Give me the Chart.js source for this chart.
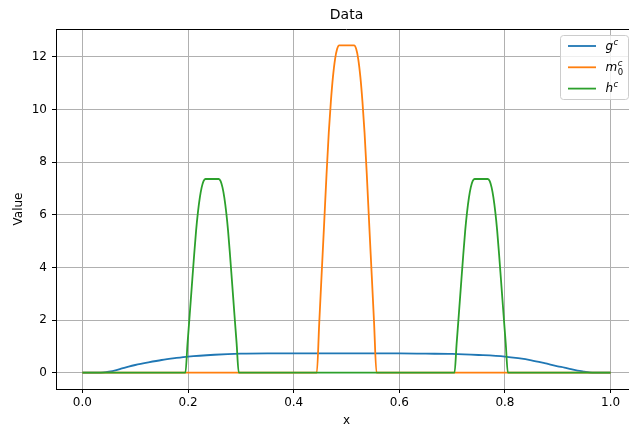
<!DOCTYPE html>
<html>
<head>
<meta charset="utf-8">
<title>Data</title>
<script src="https://cdn.jsdelivr.net/npm/chart.js@4.4.0/dist/chart.umd.min.js"></script>
<style>
  html, body { margin: 0; padding: 0; background: #fff; overflow: hidden; }
  #wrap { width: 640px; height: 428px; }
</style>
</head>
<body>
<div id="wrap"><canvas id="data-chart" width="640" height="428"></canvas></div>
<script>
// values
const gX = [0, 0.03, 0.04, 0.05, 0.0625, 0.075, 0.0875, 0.1, 0.125, 0.15, 0.175, 0.2, 0.25, 0.3, 0.35, 0.4, 0.5, 0.6, 0.65, 0.7, 0.75, 0.8, 0.825, 0.85, 0.875, 0.9, 0.9125, 0.925, 0.9375, 0.95, 0.96, 0.97, 1.0];
const gY = [0, 0, 0.01, 0.04, 0.09, 0.16, 0.23, 0.29, 0.39, 0.48, 0.55, 0.61, 0.68, 0.72, 0.73, 0.73, 0.73, 0.73, 0.72, 0.71, 0.67, 0.61, 0.55, 0.47, 0.36, 0.24, 0.19, 0.13, 0.08, 0.04, 0.01, 0, 0];

const mX = [0, 0.4438, 0.4483, 0.4528, 0.4574, 0.4622, 0.4664, 0.4704, 0.4743, 0.4783, 0.4822, 0.4862, 0.5003,
            0.5144, 0.5184, 0.5223, 0.5263, 0.5302, 0.5342, 0.5384, 0.5432, 0.5478, 0.5523, 0.5568, 1.0];
const mY = [0, 0, 1.85, 3.69, 5.55, 7.54, 9.11, 10.30, 11.23, 11.91, 12.30, 12.44, 12.44,
            12.44, 12.30, 11.91, 11.23, 10.30, 9.11, 7.54, 5.55, 3.69, 1.85, 0, 0];

const hX = [0, 0.195, 0.199, 0.2031, 0.2071, 0.2115, 0.2152, 0.2187, 0.2223, 0.2258, 0.2293, 0.2329, 0.2455,
            0.2581, 0.2617, 0.2652, 0.2687, 0.2723, 0.2758, 0.2795, 0.2839, 0.2879, 0.292, 0.296,
            0.7045, 0.7085, 0.7126, 0.7166, 0.721, 0.7247, 0.7282, 0.7318, 0.7353, 0.7388, 0.7424, 0.755,
            0.7676, 0.7712, 0.7747, 0.7782, 0.7818, 0.7853, 0.789, 0.7934, 0.7974, 0.8015, 0.8055, 1.0];
const hY = [0, 0, 1.10, 2.19, 3.28, 4.46, 5.39, 6.09, 6.65, 7.04, 7.28, 7.36, 7.36,
            7.36, 7.28, 7.04, 6.65, 6.09, 5.39, 4.46, 3.28, 2.19, 1.10, 0,
            0, 1.10, 2.19, 3.28, 4.46, 5.39, 6.09, 6.65, 7.04, 7.28, 7.36, 7.36,
            7.36, 7.28, 7.04, 6.65, 6.09, 5.39, 4.46, 3.28, 2.19, 1.10, 0, 0];

const xTicks = [0, 0.2, 0.4, 0.6, 0.8, 1.0];
const yTicks = [0, 2, 4, 6, 8, 10, 12];

const legendLabels = [
  { base: 'g', sup: 'c' },
  { base: 'm', sub: '0', sup: 'c' },
  { base: 'h', sup: 'c' }
];
const seriesColors = ['#1f77b4', '#ff7f0e', '#2ca02c'];

function toPoints(xs, ys) {
  return xs.map((x, i) => ({ x: x, y: ys[i] }));
}

Chart.defaults.font.family = '"DejaVu Sans", sans-serif';
Chart.defaults.font.size = 12;
Chart.defaults.color = '#000';

// top/right spines and the matplotlib-style legend box
const spinesAndLegend = {
  id: 'spinesAndLegend',
  afterDraw(chart) {
    const ctx = chart.ctx;
    const a = chart.chartArea;
    ctx.save();
    ctx.strokeStyle = '#000';
    ctx.lineWidth = 1;
    ctx.beginPath();
    ctx.moveTo(a.left, a.top + 0.5);
    ctx.lineTo(a.right, a.top + 0.5);
    ctx.moveTo(a.right - 0.5, a.top);
    ctx.lineTo(a.right - 0.5, a.bottom);
    ctx.stroke();

    const bw = 68, bh = 64, r = 3;
    const bx = a.right - 9 - bw + 0.5;
    const by = a.top + 6 + 0.5;
    ctx.beginPath();
    ctx.moveTo(bx + r, by);
    ctx.arcTo(bx + bw, by, bx + bw, by + bh, r);
    ctx.arcTo(bx + bw, by + bh, bx, by + bh, r);
    ctx.arcTo(bx, by + bh, bx, by, r);
    ctx.arcTo(bx, by, bx + bw, by, r);
    ctx.closePath();
    ctx.fillStyle = 'rgba(255,255,255,0.8)';
    ctx.fill();
    ctx.strokeStyle = '#cccccc';
    ctx.stroke();

    legendLabels.forEach((lab, i) => {
      const ly = by + 10.5 + i * 21.3;
      ctx.strokeStyle = seriesColors[i];
      ctx.lineWidth = 1.8;
      ctx.beginPath();
      ctx.moveTo(bx + 7.5, ly);
      ctx.lineTo(bx + 35.5, ly);
      ctx.stroke();

      const tx = bx + 45;
      const base = ly + 3.7;
      ctx.fillStyle = '#000';
      ctx.textBaseline = 'alphabetic';
      ctx.textAlign = 'left';
      ctx.font = 'italic 12px "DejaVu Sans"';
      ctx.fillText(lab.base, tx, base);
      const sx = tx + ctx.measureText(lab.base).width + 0.5;
      if (lab.sub) {
        ctx.font = '8.5px "DejaVu Sans"';
        ctx.fillText(lab.sub, sx, base + 4);
      }
      ctx.font = 'italic 8.5px "DejaVu Sans"';
      ctx.fillText(lab.sup, sx, base - 5);
    });
    ctx.restore();
  }
};

const ctxData = document.getElementById('data-chart');

const config = {
  type: 'line',
  data: {
    datasets: [
      {
        label: 'g^c',
        data: toPoints(gX, gY),
        borderColor: seriesColors[0],
        order: 3
      },
      {
        label: 'm_0^c',
        data: toPoints(mX, mY),
        borderColor: seriesColors[1],
        order: 2
      },
      {
        label: 'h^c',
        data: toPoints(hX, hY),
        borderColor: seriesColors[2],
        order: 1
      }
    ]
  },
  options: {
    responsive: false,
    animation: false,
    events: [],
    elements: {
      point: { radius: 0 },
      line: { borderWidth: 1.8, cubicInterpolationMode: 'monotone', fill: false, borderJoinStyle: 'round' }
    },
    layout: {
      padding: { left: 0, right: 3, top: 0, bottom: 0 }
    },
    plugins: {
      legend: { display: false },
      tooltip: { enabled: false },
      title: {
        display: true,
        text: 'Data',
        fullSize: false,
        color: '#000',
        font: { size: 14, weight: 'normal' },
        padding: { top: 7.4, bottom: 4.8 }
      }
    },
    scales: {
      x: {
        type: 'linear',
        min: -0.05,
        max: 1.05,
        afterBuildTicks: (scale) => { scale.ticks = xTicks.map(v => ({ value: v })); },
        afterFit: (scale) => { scale.height = 39; },
        ticks: {
          padding: 3,
          maxRotation: 0,
          callback: (v) => Number(v).toFixed(1)
        },
        grid: { color: '#b0b0b0', lineWidth: 1, tickColor: '#000', tickLength: 4 },
        border: { color: '#000', width: 1 },
        title: { display: true, text: 'x', padding: { top: 0, bottom: 0 } }
      },
      y: {
        type: 'linear',
        min: -0.622,
        max: 13.06,
        afterBuildTicks: (scale) => { scale.ticks = yTicks.map(v => ({ value: v })); },
        afterFit: (scale) => { scale.width = 56; },
        ticks: {
          padding: 5,
          callback: (v) => String(v)
        },
        grid: { color: '#b0b0b0', lineWidth: 1, tickColor: '#000', tickLength: 4 },
        border: { color: '#000', width: 1 },
        title: { display: true, text: 'Value', padding: { top: 12, bottom: 0 } }
      }
    }
  },
  plugins: [spinesAndLegend]
};

new Chart(ctxData, config);
</script>
</body>
</html>
